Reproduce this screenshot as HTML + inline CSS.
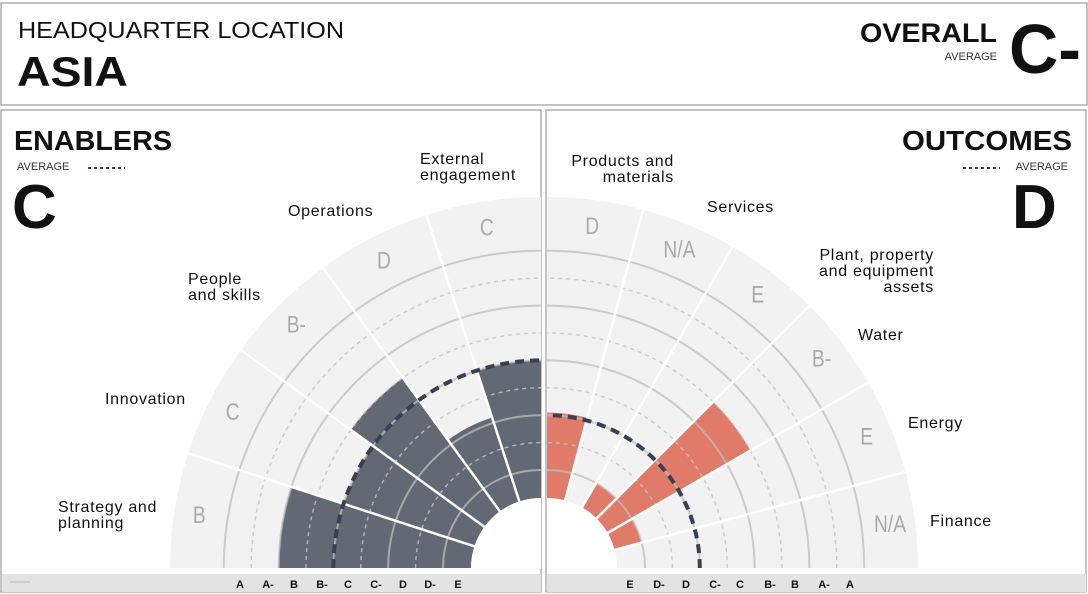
<!DOCTYPE html>
<html><head><meta charset="utf-8"><style>
html,body{margin:0;padding:0;background:#fff;width:1088px;height:594px;overflow:hidden;}
body{font-family:"Liberation Sans",sans-serif;}
svg{display:block;}
svg text{font-family:"Liberation Sans",sans-serif;}
</style></head><body>
<svg id="c" width="1088" height="594" viewBox="0 0 1088 594" overflow="hidden" xmlns="http://www.w3.org/2000/svg">
<rect x="1" y="3" width="1086" height="102" fill="#fff" stroke="#8a8a8a"/>
<text x="18" y="38" font-size="23" fill="#111" textLength="326" lengthAdjust="spacingAndGlyphs">HEADQUARTER LOCATION</text>
<text x="17" y="86" font-size="42" font-weight="bold" fill="#111" textLength="111" lengthAdjust="spacingAndGlyphs">ASIA</text>
<text x="997" y="42" font-size="27" font-weight="bold" text-anchor="end" fill="#111" textLength="137" lengthAdjust="spacingAndGlyphs">OVERALL</text>
<text x="997" y="60" font-size="11" text-anchor="end" fill="#333">AVERAGE</text>
<text x="1009" y="73" font-size="70" font-weight="bold" fill="#111" textLength="72" lengthAdjust="spacingAndGlyphs">C-</text>
<rect x="1" y="110" width="540" height="482" fill="#fff" stroke="#8a8a8a"/>
<rect x="546" y="110" width="540" height="482" fill="#fff" stroke="#8a8a8a"/>
<clipPath id="cl"><rect x="2" y="111" width="539" height="458"/></clipPath>
<clipPath id="cr"><rect x="547" y="111" width="539" height="458"/></clipPath>
<g id="left" clip-path="url(#cl)"></g>
<g id="right" clip-path="url(#cr)"></g>
<rect x="2" y="574" width="539" height="18" fill="#e3e3e3"/>
<line x1="10" y1="582" x2="30" y2="582" stroke="#bbb" stroke-width="1"/>
<rect x="547" y="574" width="539" height="18" fill="#e3e3e3"/>
<text x="14" y="150" font-size="28" font-weight="bold" fill="#111" textLength="158" lengthAdjust="spacingAndGlyphs">ENABLERS</text>
<text x="17" y="170" font-size="11" fill="#333">AVERAGE</text>
<line x1="88" y1="168" x2="125" y2="168" stroke="#3b3f52" stroke-width="2" stroke-dasharray="3 3"/>
<text x="12" y="228" font-size="62" font-weight="bold" fill="#111">C</text>
<text x="1072" y="150" font-size="28" font-weight="bold" text-anchor="end" fill="#111" textLength="170" lengthAdjust="spacingAndGlyphs">OUTCOMES</text>
<text x="1068" y="170" font-size="11" text-anchor="end" fill="#333">AVERAGE</text>
<line x1="963" y1="168" x2="1000" y2="168" stroke="#3b3f52" stroke-width="2" stroke-dasharray="3 3"/>
<text x="1012" y="228" font-size="62" font-weight="bold" fill="#111">D</text>
</svg>
<script>
const grades = ['E','D-','D','C-','C','B-','B','A-','A'];
const leftCategories = ['Strategy and\nplanning','Innovation','People\nand skills','Operations','External\nengagement'];
const leftGradeLabels = ['B','C','B-','D','C'];
const leftValues = [6, 4, 5, 2.2, 4];
const leftAverage = 4;
const rightCategories = ['Finance','Energy','Water','Plant, property\nand equipment\nassets','Services','Products and\nmaterials'];
const rightGradeLabels = ['N/A','E','B-','E','N/A','D'];
const rightValues = [null, 0, 5, 0, null, 2.1];
const rightAverage = 2;
const leftTickX = [458,430,403,376,348,322,294,268,240];
const rightTickX = [630,659,686,715,740,770,795,824,850];

const NS='http://www.w3.org/2000/svg';
const CY=568, HOLE=70, R=371, R0=98, STEP=27.4;
function rScale(v){return R0+STEP*v;}
function mk(tag,attrs,parent){const e=document.createElementNS(NS,tag);for(const k in attrs)e.setAttribute(k,attrs[k]);parent.appendChild(e);return e;}
function pt(cx,dir,r,deg){const a=deg*Math.PI/180;return [cx+dir*r*Math.cos(a),CY-r*Math.sin(a)];}
function sector(cx,dir,r1,r2,a1,a2){
  const p1=pt(cx,dir,r2,a1),p2=pt(cx,dir,r2,a2),p3=pt(cx,dir,r1,a2),p4=pt(cx,dir,r1,a1);
  const sw1=dir>0?0:1, sw2=dir>0?1:0;
  return `M${p1[0]},${p1[1]} A${r2},${r2} 0 0 ${sw1} ${p2[0]},${p2[1]} L${p3[0]},${p3[1]} A${r1},${r1} 0 0 ${sw2} ${p4[0]},${p4[1]} Z`;
}
function arc(cx,dir,r){const a=pt(cx,dir,r,0),b=pt(cx,dir,r,90);return `M${a[0]},${a[1]} A${r},${r} 0 0 ${dir>0?0:1} ${b[0]},${b[1]}`;}

function draw(g,cx,dir,cats,gl,vals,avg,color){
  const n=cats.length, w=90/n;
  let e=mk('path',{d:sector(cx,dir,HOLE,R,0,90),fill:'#f2f2f2'},g);
  
  
  vals.forEach((v,i)=>{ if(v===null) return;
    const b=mk('path',{d:sector(cx,dir,HOLE,rScale(v),i*w,(i+1)*w),fill:color},g);
    
    
  });
  grades.forEach((gname,i)=>{
    const solid=i%2===0;
    const c=mk('path',{d:arc(cx,dir,rScale(i)),fill:'none',stroke:solid?'rgba(190,190,190,0.75)':'rgba(195,195,195,0.8)','stroke-width':solid?2:1.5,'stroke-dasharray':solid?'none':'4 4'},g);
    
    
  });
  for(let i=1;i<n;i++){const a=pt(cx,dir,HOLE-2,i*w),b=pt(cx,dir,R+2,i*w);
    const l=mk('line',{x1:a[0],y1:a[1],x2:b[0],y2:b[1],stroke:'#fff','stroke-width':2.5},g);
    
    }
  const av=mk('path',{d:arc(cx,dir,rScale(avg)),fill:'none',stroke:'#3b3f52','stroke-width':4,'stroke-dasharray':'9 6'},g);
  
  
  const h=mk('circle',{cx:cx,cy:CY,r:HOLE,fill:'#fff'},g);
  
  
  gl.forEach((t,i)=>{const p=pt(cx,dir,346,(i+0.5)*w);
    const tx=mk('text',{x:p[0],y:p[1]+9,'text-anchor':'middle','font-size':24,fill:'#aaa',transform:`translate(${p[0]},0) scale(0.8,1) translate(${-p[0]},0)`},g);
    tx.textContent=t;
    
    });
}
const svg=document.getElementById('c');
draw(document.getElementById('left'),541,-1,leftCategories,leftGradeLabels,leftValues,leftAverage,'#636875');
draw(document.getElementById('right'),547,1,rightCategories,rightGradeLabels,rightValues,rightAverage,'#e07b6a');

const leftLab=[[58,512,'start'],[105,404,'start'],[188,284,'start'],[288,216,'start'],[420,164,'start']];
const rightLab=[[930,526,'start'],[908,428,'start'],[858,340,'start'],[934,260,'end'],[707,212,'start'],[674,166,'end']];
function labels(cats,pos){cats.forEach((c,i)=>{const [x,y,anc]=pos[i];
  const t=mk('text',{x:x,y:y,'font-size':16,'letter-spacing':0.7,fill:'#111','text-anchor':anc},svg);
  
  
  c.split('\n').forEach((line,j)=>{const s=mk('tspan',{x:x,dy:j?16:0},t);s.textContent=line;});});}
labels(leftCategories,leftLab);labels(rightCategories,rightLab);
function ticks(xs){grades.forEach((gname,i)=>{const t=mk('text',{x:xs[i],y:588,'font-size':11,'font-weight':'bold','text-anchor':'middle',fill:'#111'},svg);
  t.textContent=gname;
  
  });}
ticks(leftTickX);ticks(rightTickX);
</script>
</body></html>
